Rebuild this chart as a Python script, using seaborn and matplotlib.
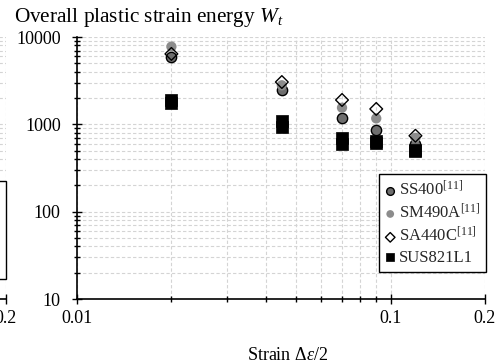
import matplotlib
matplotlib.use("Agg")
import matplotlib.pyplot as plt
import matplotlib.ticker as mticker
import seaborn as sns
import pandas as pd

# ---- data ----
strain = [0.02, 0.045, 0.07, 0.09, 0.12]
ss400 = [5950, 2450, 1170, 860, 590]
sm490a = [7750, 2800, 1550, 1170, 700]
sa440c = [6400, 3050, 1900, 1500, 740]
sus_strain = [0.02, 0.02, 0.045, 0.045, 0.07, 0.07, 0.09, 0.09, 0.12, 0.12]
sus821l1 = [1910, 1750, 1100, 920, 690, 590, 650, 610, 510, 490]

labels = ["SS400$^{[11]}$", "SM490A$^{[11]}$", "SA440C$^{[11]}$", "SUS821L1"]
x_major = [0.01, 0.1, 0.2]
x_major_labels = ["0.01", "0.1", "0.2"]
x_minor = [0.02, 0.03, 0.04, 0.05, 0.06, 0.07, 0.08, 0.09]
y_major = [10, 100, 1000, 10000]

sns.set_theme(style="white")
plt.rcParams["font.family"] = ["Liberation Serif", "DejaVu Serif"]
plt.rcParams["mathtext.fontset"] = "custom"
plt.rcParams["mathtext.rm"] = "Liberation Serif"
plt.rcParams["mathtext.it"] = "Liberation Serif:italic"
plt.rcParams["mathtext.bf"] = "Liberation Serif:bold"

W, H = 499, 361
fig = plt.figure(figsize=(W / 100, H / 100), dpi=100)

L, R, T, B = 77, 485, 37, 299
GRID = dict(color="#d4d4d4", linestyle=(0, (3, 2)), linewidth=0.8)


def style_axes(ax):
    ax.set_xscale("log")
    ax.set_yscale("log")
    ax.set_xlim(0.01, 0.2)
    ax.set_ylim(10, 10000)
    ax.xaxis.set_major_locator(mticker.FixedLocator(x_major))
    ax.xaxis.set_major_formatter(mticker.FixedFormatter(x_major_labels))
    ax.xaxis.set_minor_locator(mticker.FixedLocator(x_minor))
    ax.xaxis.set_minor_formatter(mticker.NullFormatter())
    ax.yaxis.set_major_locator(mticker.FixedLocator(y_major))
    ax.yaxis.set_major_formatter(mticker.FuncFormatter(lambda v, p: f"{int(round(v))}"))
    ax.yaxis.set_minor_locator(mticker.LogLocator(base=10, subs=range(2, 10)))
    ax.yaxis.set_minor_formatter(mticker.NullFormatter())
    ax.grid(True, which="both", **GRID)
    ax.set_axisbelow(True)
    for s in ("top", "right"):
        ax.spines[s].set_visible(False)
    for s in ("left", "bottom"):
        ax.spines[s].set_color("black")
        ax.spines[s].set_linewidth(1.2)
    ax.tick_params(axis="both", which="major", direction="inout", length=7.5,
                   width=1.0, color="black", labelsize=13, labelcolor="black")
    ax.tick_params(axis="both", which="minor", direction="inout", length=4.5,
                   width=1.0, color="black")
    ax.tick_params(axis="x", which="major", pad=4)
    ax.tick_params(axis="y", which="major", pad=8)
    ax.tick_params(left=True, bottom=True, which="both")


def add_series(ax):
    sns.scatterplot(x=strain, y=ss400, ax=ax, marker="o", s=55, color="#6e6e6e",
                    edgecolor="black", linewidth=1.0, label=labels[0], zorder=3)
    sns.scatterplot(x=strain, y=sm490a, ax=ax, marker="o", s=55, color="#8c8c8c",
                    edgecolor="none", linewidth=0, label=labels[1], zorder=3)
    sns.scatterplot(x=strain, y=sa440c, ax=ax, marker="D", s=42, facecolor="none",
                    edgecolor="black", linewidth=1.0, label=labels[2], zorder=4)
    sns.scatterplot(x=sus_strain, y=sus821l1, ax=ax, marker="s", s=72, color="black",
                    edgecolor="black", linewidth=0.5, label=labels[3], zorder=5)


LEG = dict(loc="lower right", borderaxespad=0, frameon=True, fancybox=False,
           edgecolor="black", framealpha=1, fontsize=12, handlelength=0.6,
           handletextpad=0.2, borderpad=0.35, labelspacing=0.25,
           markerscale=0.75)

# ---- partial neighbouring panel at the far left ----
axl = fig.add_axes([(5.5 - (R - L)) / W, 1 - B / H, (R - L) / W, (B - T) / H])
style_axes(axl)
axl.set_yticklabels([])
handles = [
    axl.scatter([], [], marker="o", s=55, color="#6e6e6e", edgecolor="black", linewidth=1.0),
    axl.scatter([], [], marker="o", s=55, color="#8c8c8c", edgecolor="none"),
    axl.scatter([], [], marker="D", s=42, facecolor="none", edgecolor="black", linewidth=1.0),
    axl.scatter([], [], marker="s", s=72, color="black"),
]
legl = axl.legend(handles, labels, bbox_to_anchor=(1.0, (B - 279) / (B - T)), **LEG)
legl.get_frame().set_linewidth(1.0)

# ---- main panel ----
ax = fig.add_axes([L / W, 1 - B / H, (R - L) / W, (B - T) / H])
style_axes(ax)
add_series(ax)
leg = ax.legend(bbox_to_anchor=(1.0025, (B - 271.7) / (B - T)), **LEG)
leg.get_frame().set_linewidth(1.0)

ax.set_xlabel("Strain $\\Delta\\varepsilon$/2", fontsize=13, color="black")
ax.xaxis.set_label_coords((288 - L) / (R - L), -(347 - B) / (B - T))
ax.set_ylabel("")

fig.text(14 / W, 1 - 22 / H, "Overall plastic strain energy $W_t$", fontsize=15.3,
         color="black", ha="left", va="baseline")

fig.savefig("out.png", dpi=100)
